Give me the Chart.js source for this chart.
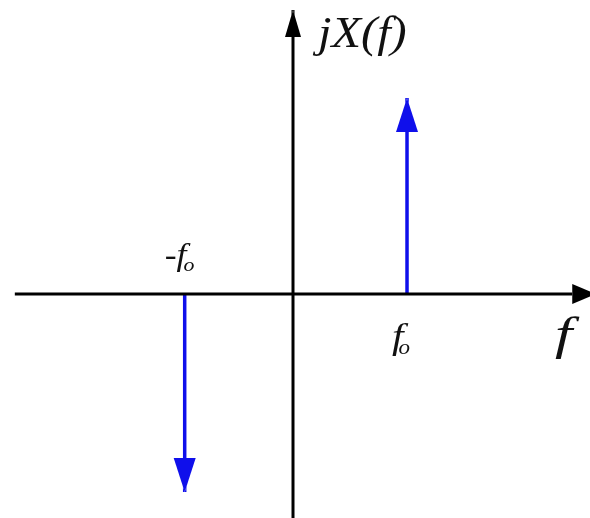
<!DOCTYPE html>
<html>
<head>
<meta charset="utf-8">
<script src="https://cdn.jsdelivr.net/npm/chart.js@4/dist/chart.umd.min.js"></script>
<style>
  html, body { margin: 0; padding: 0; background: #fff; }
  #wrap { width: 590px; height: 518px; }
</style>
</head>
<body>
<div id="wrap"><canvas id="spectrum"></canvas></div>
<script>
// impulse positions (in units of f_o) and their heights
const freqs = [-0.95, 1];
const amps = [-1, 0.99];
const freqLabels = ["-f", "f"];
const freqSub = "o";
const axisNameX = "f";
const axisNameY = "jX(f)";

// extent of the drawn axes
const axisXRange = [-2.44, 2.66];
const axisYRange = [-1.14, 1.434];

const blue = "rgb(15, 15, 235)";
const serif = "'Liberation Serif', 'Times New Roman', serif";

const axisSets = [
  {
    data: [{ x: axisXRange[0], y: 0 }, { x: axisXRange[1], y: 0 }],
    borderColor: "#000", borderWidth: 3, head: { len: 24, half: 10 }
  },
  {
    data: [{ x: 0, y: axisYRange[0] }, { x: 0, y: axisYRange[1] }],
    borderColor: "#000", borderWidth: 3, head: { len: 27, half: 8 }
  }
];

const impulseSets = freqs.map((f, i) => ({
  data: [{ x: f, y: 0 }, { x: f, y: amps[i] }],
  borderColor: blue, borderWidth: 3.5, head: { len: 34, half: 11 }
}));

function headPath(ctx, chart, i) {
  const ds = chart.data.datasets[i];
  const pts = chart.getDatasetMeta(i).data;
  const a = pts[pts.length - 2], b = pts[pts.length - 1];
  const dx = b.x - a.x, dy = b.y - a.y;
  const d = Math.hypot(dx, dy) || 1;
  const ux = dx / d, uy = dy / d;
  const bx = b.x - ux * ds.head.len, by = b.y - uy * ds.head.len;
  ctx.moveTo(b.x, b.y);
  ctx.lineTo(bx - uy * ds.head.half, by + ux * ds.head.half);
  ctx.lineTo(bx + uy * ds.head.half, by - ux * ds.head.half);
  ctx.closePath();
}

// italic serif text, a little wider than the plain face
function italic(ctx, text, x, y, size, stretch) {
  ctx.save();
  ctx.font = "italic " + size + "px " + serif;
  ctx.translate(x, y);
  ctx.scale(stretch, 1);
  ctx.fillText(text, 0, 0);
  const w = ctx.measureText(text).width * stretch;
  ctx.restore();
  return w;
}

// label with a small subscript after it
function subLabel(ctx, text, sub, x, y, size, subSize, subDx) {
  const w = italic(ctx, text, x, y, size, 1.15);
  italic(ctx, sub, x + w + subDx, y + subSize * 0.3, subSize, 1.15);
}

const arrowHeads = {
  id: "arrowHeads",
  beforeDatasetsDraw(chart) {
    // keep the stems from showing through the sharp tips
    const ctx = chart.ctx;
    ctx.save();
    ctx.beginPath();
    ctx.rect(0, 0, chart.width, chart.height);
    chart.data.datasets.forEach((ds, i) => headPath(ctx, chart, i));
    ctx.clip("evenodd");
  },
  afterDatasetsDraw(chart) {
    const ctx = chart.ctx;
    ctx.restore();
    chart.data.datasets.forEach((ds, i) => {
      ctx.save();
      ctx.fillStyle = ds.borderColor;
      ctx.beginPath();
      headPath(ctx, chart, i);
      ctx.fill();
      ctx.restore();
    });

    const sx = chart.scales.x, sy = chart.scales.y;
    const x0 = sx.getPixelForValue(0), y0 = sy.getPixelForValue(0);
    ctx.save();
    ctx.fillStyle = "#111";
    ctx.textBaseline = "alphabetic";
    ctx.textAlign = "left";

    italic(ctx, axisNameY, x0 + 25, sy.getPixelForValue(axisYRange[1]) + 37, 44, 1.1);
    italic(ctx, axisNameX, 555, y0 + 55, 46, 1.35);

    freqs.forEach((f, i) => {
      const px = sx.getPixelForValue(f);
      if (amps[i] < 0) {
        subLabel(ctx, freqLabels[i], freqSub, px - 20, y0 - 29, 31, 19, -3);
      } else {
        subLabel(ctx, freqLabels[i], freqSub, px - 15, y0 + 54, 36, 20, -5);
      }
    });
    ctx.restore();
  }
};

function draw() {
  new Chart(document.getElementById("spectrum"), {
    type: "scatter",
    data: {
      datasets: [...axisSets, ...impulseSets].map(ds => ({
        ...ds,
        showLine: true,
        pointRadius: 0,
        borderCapStyle: "butt",
        clip: false
      }))
    },
    options: {
      responsive: true,
      maintainAspectRatio: false,
      animation: false,
      events: [],
      layout: { padding: 0 },
      plugins: {
        legend: { display: false },
        tooltip: { enabled: false }
      },
      scales: {
        x: { type: "linear", display: false, min: -2.570, max: 2.605 },
        y: { type: "linear", display: false, min: -1.1313, max: 1.4848 }
      }
    },
    plugins: [arrowHeads]
  });
}

// the canvas text needs the serif face ready before drawing
Promise.all([
  document.fonts.load("italic 42px 'Liberation Serif'"),
  document.fonts.load("42px 'Liberation Serif'")
]).then(draw, draw);
</script>
</body>
</html>
